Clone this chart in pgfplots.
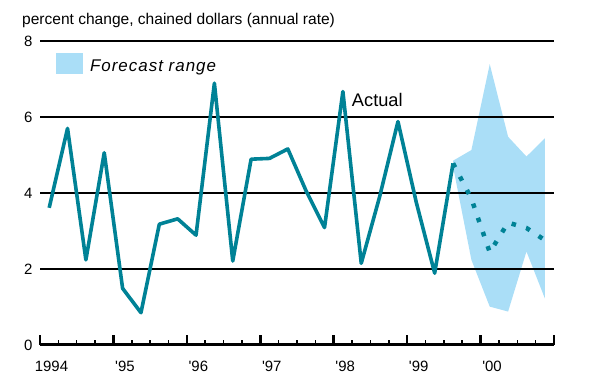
\documentclass[border=0pt]{standalone}
\usepackage{pgfplots}
\pgfplotsset{compat=1.18}
\usepackage{fontspec}
\setmainfont{Liberation Sans}[Ligatures=TeXOff]
\definecolor{teal1}{RGB}{0,130,150}
\definecolor{fc}{RGB}{170,222,247}
\begin{document}
\begin{tikzpicture}
\node[anchor=base west, inner sep=0pt, font=\fontsize{15.6}{18}\selectfont] at (22bp,358bp) {percent change, chained dollars (annual rate)};
\begin{axis}[
  set layers,
  at={(40bp,38bp)}, anchor=south west,
  scale only axis, width=514bp, height=304bp,
  xmin=1994, xmax=2001, ymin=0, ymax=8,
  axis x line*=bottom, axis y line*=left,
  y axis line style={draw=none},
  x axis line style={line width=3bp, -},
  xtick={1994,1995,1996,1997,1998,1999,2000,2001},
  xticklabels={1994,'95,'96,'97,'98,'99,'00,{}},
  minor x tick num=3,
  tick align=inside,
  major tick length=10bp, minor tick length=5bp,
  major x tick style={black, line width=2.5bp},
  minor x tick style={black, line width=1.5bp},
  ytick={0,2,4,6,8},
  major y tick style={draw=none},
  ymajorgrids, major grid style={black, line width=2.5bp},
  /pgf/number format/assume math mode=true,
  tick label style={font=\fontsize{15}{18}\selectfont},
  xticklabel style={xshift=11.5bp, yshift=-13bp},
  yticklabel style={xshift=-4bp},
  legend style={at={(axis cs:1994.218,7.358)}, anchor=west, draw=none, fill=none,
    inner sep=0pt, outer sep=0pt, nodes={inner sep=0pt},
    font=\fontsize{17}{20}\selectfont\itshape\addfontfeature{LetterSpace=6}},
  legend image code/.code={\fill[#1] (0bp,-5.05bp) rectangle (26.7bp,15.65bp); \path (34bp,0bp);},
]
\addplot[on layer=axis background, fill=fc, draw=none] coordinates {
 (1999.625,4.85) (1999.875,5.13) (2000.125,7.39) (2000.375,5.48) (2000.625,4.96) (2000.875,5.44)
 (2000.875,1.23) (2000.625,2.46) (2000.375,0.88) (2000.125,1.01) (1999.875,2.24) (1999.625,4.70)
} -- cycle;
\addlegendentry{\raisebox{4.5bp}{Forecast range}}
\addplot[teal1, line width=3.6bp, line join=round, forget plot] coordinates {
 (1994.125,3.61) (1994.375,5.70) (1994.625,2.24) (1994.875,5.06)
 (1995.125,1.49) (1995.375,0.85) (1995.625,3.18) (1995.875,3.32)
 (1996.125,2.89) (1996.375,6.89) (1996.625,2.21) (1996.875,4.89)
 (1997.125,4.91) (1997.375,5.16) (1997.625,4.05) (1997.875,3.09)
 (1998.125,6.67) (1998.375,2.15) (1998.625,3.90) (1998.875,5.88)
 (1999.125,3.75) (1999.375,1.89) (1999.625,4.78)
};
\addplot[teal1, line width=4.5bp, dash pattern=on 4.5bp off 10.5bp, forget plot] coordinates {
 (1999.625,4.78) (1999.875,3.85) (2000.125,2.44) (2000.375,3.22) (2000.625,3.08) (2000.875,2.76)
};
\node[font=\fontsize{18.3}{21}\selectfont] at (axis cs:1998.594,6.45) {Actual};
\end{axis}
\pgfresetboundingbox
\path[use as bounding box] (0,0) rectangle (600bp,383bp);
\end{tikzpicture}
\end{document}
